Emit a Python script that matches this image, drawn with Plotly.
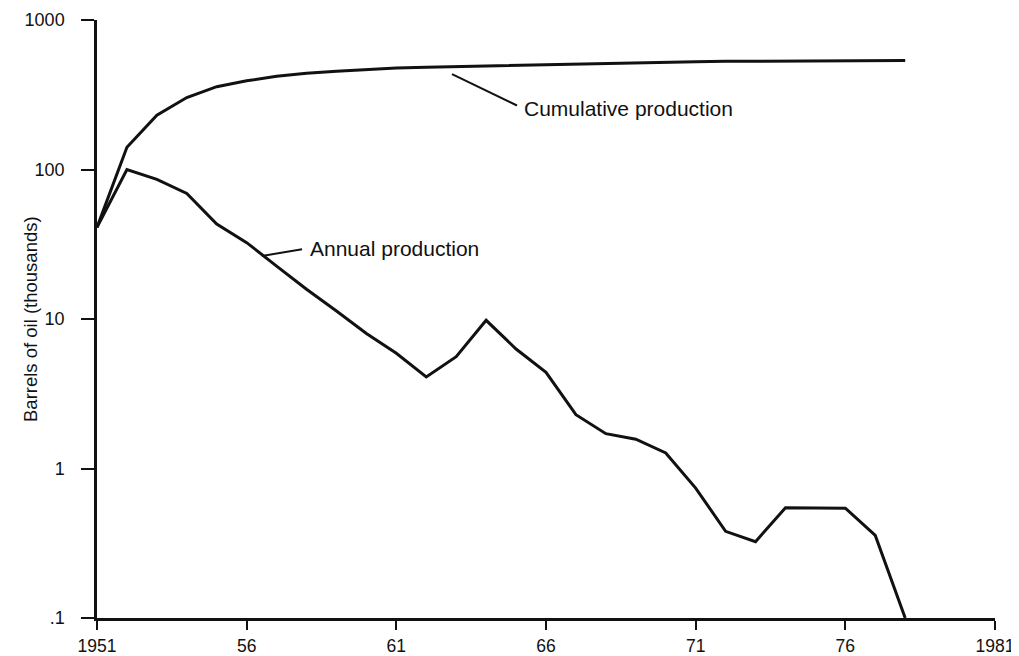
import numpy as np
import plotly.graph_objects as go

years = list(range(1951, 1979))
annual = [41, 100, 85.9, 69.2, 43.2, 32.4, 22.6, 15.8, 11.3, 8.0, 5.9, 4.1, 5.6, 9.8,
          6.3, 4.4, 2.29, 1.71, 1.57, 1.27, 0.74, 0.38, 0.324, 0.546, 0.545, 0.543, 0.357, 0.1]
cumulative = [41, 141, 231, 303, 358, 392, 420, 441, 455, 466, 477, 483, 488, 493,
              496, 500, 507, 513, 518, 522, 526, 529, 531, 533, 534, 535, 536, 536]

x_tickvals = [1951, 1956, 1961, 1966, 1971, 1976, 1981]
x_ticktext = ["1951", "56", "61", "66", "71", "76", "1981"]
y_tickvals = [0.1, 1, 10, 100, 1000]
y_ticktext = [".1", "1", "10", "100", "1000"]

FONT = "Liberation Sans, Arial, Helvetica, sans-serif"
INK = "#111111"

fig = go.Figure()
fig.add_trace(go.Scatter(x=years, y=cumulative, mode="lines",
                         line=dict(color=INK, width=3), name="Cumulative production",
                         hoverinfo="x+y"))
fig.add_trace(go.Scatter(x=years, y=annual, mode="lines",
                         line=dict(color=INK, width=3), name="Annual production",
                         hoverinfo="x+y"))

# leader lines (shapes use data values on log axes)
fig.add_shape(type="line", xref="x", yref="y", x0=1956.51, y0=26.4, x1=1957.85, y1=29.3,
              line=dict(color=INK, width=2))
fig.add_shape(type="line", xref="x", yref="y", x0=1962.86, y0=435, x1=1965.03, y1=268,
              line=dict(color=INK, width=2))

fig.add_annotation(x=1958.05, y=1.474, xref="x", yref="y", text="Annual production",
                   showarrow=False, xanchor="left", yanchor="middle",
                   font=dict(family=FONT, size=21, color=INK))
fig.add_annotation(x=1965.2, y=2.405, xref="x", yref="y", text="Cumulative production",
                   showarrow=False, xanchor="left", yanchor="middle",
                   font=dict(family=FONT, size=21, color=INK))
fig.add_annotation(x=(30 - 97) / 898, y=0.5, xref="paper", yref="paper",
                   text="Barrels of oil (thousands)", textangle=-90, showarrow=False,
                   xanchor="center", yanchor="middle",
                   font=dict(family=FONT, size=18.5, color=INK))

fig.update_xaxes(range=[1951, 1981], tickvals=x_tickvals, ticktext=x_ticktext,
                 showgrid=False, zeroline=False, showline=True, linecolor=INK, linewidth=2.5,
                 ticks="outside", ticklen=9, tickwidth=2, tickcolor=INK,
                 ticklabelstandoff=1, automargin=False,
                 tickfont=dict(family=FONT, size=17.5, color=INK))
fig.update_yaxes(type="log", range=[-1, 3], tickvals=y_tickvals, ticktext=y_ticktext,
                 showgrid=False, zeroline=False, showline=True, linecolor=INK, linewidth=2.5,
                 ticks="outside", ticklen=13, tickwidth=2, tickcolor=INK,
                 ticklabelstandoff=13, automargin=False,
                 tickfont=dict(family=FONT, size=18, color=INK))

# page body has an 8px margin, so the figure is sized to fit inside the window
fig.update_layout(width=1011, height=648, showlegend=False,
                  margin=dict(l=89, r=24, t=12, b=38, autoexpand=False),
                  paper_bgcolor="white", plot_bgcolor="white",
                  font=dict(family=FONT, color=INK))

fig.write_html("out.html")
